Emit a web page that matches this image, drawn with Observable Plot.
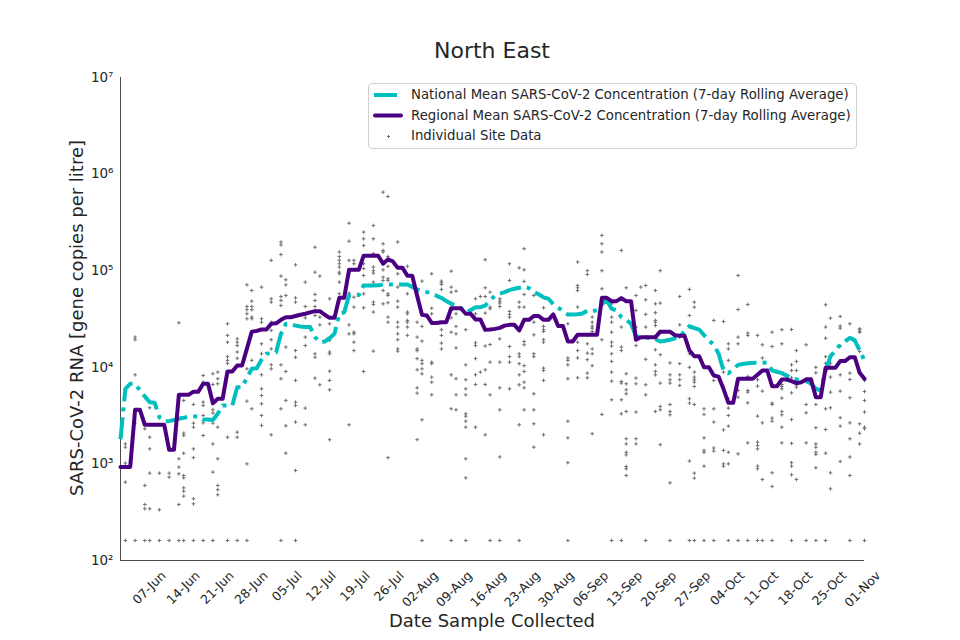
<!DOCTYPE html>
<html>
<head>
<meta charset="utf-8">
<script src="https://cdn.jsdelivr.net/npm/d3@7"></script>
<script src="https://cdn.jsdelivr.net/npm/@observablehq/plot@0.6"></script>
<style>
  body { margin: 0; background: #fff; font-family: "DejaVu Sans", sans-serif; }
  #wrap { position: relative; width: 960px; height: 640px; overflow: hidden; }
  #chart { position: absolute; left: 0; top: 0; }
  #title { position: absolute; left: 120px; width: 744px; top: 37px; text-align: center; font-size: 22px; line-height: 28px; color: #262626; }
  #ylabel { position: absolute; left: 76px; top: 318px; transform: translate(-50%, -50%) rotate(-90deg); white-space: nowrap; font-size: 18px; color: #262626; }
  #xlabel { position: absolute; left: 120px; width: 744px; top: 609px; text-align: center; font-size: 18px; line-height: 24px; color: #262626; }
  #legend { position: absolute; left: 368px; top: 83px; width: 489px; height: 66px; box-sizing: border-box; border: 1px solid #d0d0d0; border-radius: 4px; background: rgba(255,255,255,0.85); font-size: 13.3px; color: #262626; }
  #legend .lt { position: absolute; left: 42px; line-height: 18px; white-space: nowrap; }
  #legend svg { position: absolute; left: 0; top: 0; }
</style>
</head>
<body>
<div id="wrap">
  <div id="chart"></div>
  <div id="title"></div>
  <div id="ylabel"></div>
  <div id="xlabel"></div>
  <div id="legend">
    <svg width="487" height="64">
      <line id="swNat" x1="5" x2="28" y1="11" y2="11" stroke-width="4"/>
      <line id="swReg" x1="6" x2="32" y1="31.5" y2="31.5" stroke-width="4" stroke-linecap="round"/>
      <path id="swPts" d="M18,52.5h3M19.5,51v3" stroke-width="1"/>
    </svg>
    <div class="lt" id="lg0" style="top:2px"></div>
    <div class="lt" id="lg1" style="top:22.5px"></div>
    <div class="lt" id="lg2" style="top:43px"></div>
  </div>
</div>
<script>
// ---------- text ----------
const titleText = "North East";
const xLabelText = "Date Sample Collected";
const yLabelText = "SARS-CoV-2 RNA [gene copies per litre]";
const legendLabels = [
  "National Mean SARS-CoV-2 Concentration (7-day Rolling Average)",
  "Regional Mean SARS-CoV-2 Concentration (7-day Rolling Average)",
  "Individual Site Data"
];

// ---------- axes ----------
const xStart = "2020-06-01";
const xEnd = "2020-11-01";
const xTicks = ["2020-06-07","2020-06-14","2020-06-21","2020-06-28","2020-07-05","2020-07-12","2020-07-19","2020-07-26",
  "2020-08-02","2020-08-09","2020-08-16","2020-08-23","2020-08-30","2020-09-06","2020-09-13","2020-09-20","2020-09-27",
  "2020-10-04","2020-10-11","2020-10-18","2020-10-25","2020-11-01"];
const yTicks = [1e2, 1e3, 1e4, 1e5, 1e6, 1e7];

// ---------- daily 7-day rolling averages, one value per day from seriesStart ----------
const seriesStart = "2020-06-01";
const nationalMean = [
  1800, 5990, 6750, 6750, 5750, 5000, 4350, 4300, 3040, 2770,
  2770, 2850, 2930, 3000, 3100, 3100, 3100, 2880, 2880, 2850,
  3300, 4030, 4030, 4030, 6220, 6220, 7800, 9640, 9800, 12000,
  13800, 14000, 14300, 22200, 28200, 28000, 27000, 26500, 26100, 26100,
  20500, 18200, 18500, 20000, 22200, 35800, 37000, 55300, 56000, 56000,
  70300, 70300, 70300, 70500, 72000, 72000, 72000, 72000, 72000, 72000,
  68000, 64000, 62000, 60000, 58500, 55000, 52400, 48500, 45400, 44000,
  41000, 37200, 39000, 41900, 41900, 43600, 49200, 55000, 57700, 60000,
  63000, 65000, 66500, 68600, 66000, 60000, 57000, 53000, 51200, 45000,
  41500, 38000, 35200, 35200, 35500, 36000, 38700, 38000, 39000, 45000,
  49200, 40300, 39000, 33000, 31000, 28200, 21000, 20500, 20500, 20000,
  19500, 18500, 18800, 19300, 20000, 20800, 23500, 26700, 25500, 24600,
  21500, 19000, 17100, 13800, 9270, 8700, 9500, 10600, 10800, 11000,
  11100, 11200, 11200, 11100, 9270, 9000, 8700, 8200, 7710, 7500,
  7300, 7200, 6750, 6000, 5750, 9270, 13000, 14900, 17200, 18500,
  20200, 19000, 15000, 11700
];
const regionalMean = [
  930, 930, 930, 3630, 3630, 2540, 2540, 2540, 2540, 2540,
  1400, 1400, 5190, 5190, 5190, 5600, 5600, 6750, 6750, 4250,
  4720, 4720, 9060, 9060, 10440, 10440, 15600, 23400, 23800, 24600,
  24600, 28200, 28500, 31000, 33000, 33000, 34000, 35000, 35800, 37000,
  38100, 38100, 35000, 32500, 32500, 52400, 52400, 102000, 102000, 102000,
  143000, 143000, 143000, 143000, 118000, 131000, 125000, 107000, 107000, 88500,
  88500, 55000, 34900, 34400, 28800, 28800, 29300, 29300, 40900, 40900,
  40900, 35800, 35800, 31300, 31300, 24400, 24600, 25000, 25600, 27000,
  27500, 27500, 24100, 31000, 31000, 34000, 34000, 31000, 31000, 35300,
  26700, 26700, 18500, 18500, 21700, 21700, 21700, 21700, 21700, 52400,
  52400, 48400, 48400, 52000, 48300, 48300, 19300, 20500, 20500, 20500,
  20500, 23400, 23400, 23400, 21500, 21200, 21200, 14900, 13000, 13000,
  10000, 10000, 8220, 8000, 5990, 4290, 4290, 7610, 7610, 7610,
  7610, 8360, 9270, 9270, 6370, 6370, 7480, 7480, 7200, 6850,
  7000, 7500, 7500, 4900, 4900, 9880, 9880, 9880, 11600, 11600,
  12700, 12700, 8770, 7610
];

// ---------- individual site samples ----------
const sampleDates = [
  "2020-06-02","2020-06-04","2020-06-06","2020-06-07","2020-06-09","2020-06-11","2020-06-13","2020-06-14",
  "2020-06-16","2020-06-18","2020-06-20","2020-06-21","2020-06-23","2020-06-25","2020-06-27","2020-06-28",
  "2020-06-30","2020-07-02","2020-07-04","2020-07-05","2020-07-07","2020-07-09","2020-07-11","2020-07-12",
  "2020-07-14","2020-07-16","2020-07-18","2020-07-19","2020-07-21","2020-07-23","2020-07-25","2020-07-26",
  "2020-07-28","2020-07-30","2020-08-01","2020-08-02","2020-08-04","2020-08-06","2020-08-08","2020-08-09",
  "2020-08-11","2020-08-13","2020-08-14","2020-08-15","2020-08-16","2020-08-18","2020-08-20","2020-08-22",
  "2020-08-23","2020-08-25","2020-08-27","2020-09-01","2020-09-03","2020-09-05","2020-09-06","2020-09-08",
  "2020-09-10","2020-09-12","2020-09-13","2020-09-15","2020-09-16","2020-09-17","2020-09-19","2020-09-20",
  "2020-09-22","2020-09-24","2020-09-26","2020-09-27","2020-09-29","2020-10-01","2020-10-03","2020-10-04",
  "2020-10-06","2020-10-08","2020-10-10","2020-10-11","2020-10-13","2020-10-15","2020-10-17","2020-10-18",
  "2020-10-20","2020-10-22","2020-10-24","2020-10-25","2020-10-27","2020-10-29","2020-10-31","2020-11-01"
];
const sampleValues = [
  [1610, 1490, 1020, 964, 648, 161],
  [20500, 19300, 8360, 2640, 161],
  [2310, 598, 380, 343, 161],
  [3810, 1890, 1430, 802, 343, 161],
  [802, 335, 161],
  [802, 730, 161],
  [28900, 1130, 926, 789, 380, 161],
  [4540, 2080, 1970, 1290, 759, 718, 565, 522, 464, 161],
  [4120, 2640, 2400, 1430, 1160, 435, 386, 161],
  [8230, 7020, 4360, 4030, 3170, 2660, 1970, 161],
  [8570, 6640, 3630, 3360, 2640, 1610, 822, 161],
  [8920, 7610, 6750, 2400, 1130, 598, 540, 479],
  [28200, 21400, 18200, 12900, 11800, 11000, 1890, 161],
  [19700, 18200, 16800, 14400, 12400, 2130, 1890, 161],
  [71400, 42600, 39400, 35800, 31800, 9640, 4460, 1000, 161],
  [62400, 48400, 42600, 39400, 33100, 31800, 11800, 3720],
  [67600, 31800, 29300, 17500, 13800, 8360, 5990, 5110, 4190, 3170, 2500],
  [128000, 51200, 47300, 29300, 24100, 19300, 15500, 10600, 9640, 2000],
  [198000, 185000, 147000, 87900, 54100, 49200, 43600, 10600, 7610, 3720, 161],
  [80500, 71400, 55400, 16200, 9060, 4540, 2480, 1290],
  [115000, 52400, 47300, 14900, 12700, 7310, 4360, 4030, 2710, 855, 161],
  [76200, 42600, 32500, 26100, 20500, 16800, 3780, 2540],
  [175000, 96600, 56800, 49200, 42600, 38800, 34400, 13800, 12700, 7730],
  [87900, 33100, 27500, 6590],
  [51200, 28200, 19000, 14400, 13800, 9120, 7310, 5850, 1780],
  [156000, 140000, 128000, 118000, 109000, 96600, 92900, 76200, 57700],
  [310000, 202000, 128000, 92900, 58600, 27500, 22200, 2540],
  [128000, 118000, 53200, 42000, 23100, 22200, 18200, 14900],
  [251000, 214000, 182000, 118000, 105000, 89300, 57700, 41300, 9060],
  [294000, 214000, 150000, 109000, 100000, 94400, 76200, 47300, 44700, 37300, 14700],
  [650000, 190000, 162000, 156000, 123000, 102000, 85800, 79300, 62400, 45400],
  [586000, 140000, 111000, 82400, 79300, 57700, 55400, 46600, 33100, 29300, 1160],
  [198000, 92900, 67600, 48400, 42000, 29300, 26100, 22200, 19300, 15500, 14700],
  [111000, 57700, 37300, 35800, 30600, 29300, 26100, 21400],
  [29300, 20500, 15500, 14900, 12300, 9420, 6130, 5400, 1780],
  [78000, 26500, 18700, 11800, 10900, 9640, 8570, 2860, 161],
  [92900, 40900, 35800, 11300, 10900, 7910, 7020, 5190],
  [78000, 75000, 72000, 64000, 52400, 24500, 21400, 17800, 15500],
  [98900, 67600, 60000, 46200, 38800, 32500, 23100, 8360, 3720, 161],
  [61400, 35800, 26500, 22200, 15900, 7610, 5190, 3630],
  [24500, 10600, 7430, 5990, 5190, 3300, 3120, 2770, 2400, 1130, 718, 161],
  [51200, 35800, 17900, 16800, 12300, 8360, 6640, 2400],
  [54100, 8920],
  [130000, 66500, 54100, 36400, 16600, 9420, 6640, 2000],
  [60000, 42000, 40300, 17200, 11300, 5190, 161],
  [51200, 48400, 46200, 42600, 19700, 11300, 6130, 3630, 1180, 161],
  [118000, 79300, 37800, 35300, 33100, 16400, 12900, 11300, 5990],
  [107000, 47300, 42000, 24100, 13800, 12900, 10900, 8360, 6590, 2540, 161],
  [169000, 102000, 77400, 56800, 42000, 18500, 17100, 10400, 9060, 7020, 6130, 3630],
  [55400, 29300, 21700, 13800, 12900, 5320, 3630, 2600, 1490],
  [41300, 26500, 24500, 23500, 19300, 18200, 9800, 9270, 7310, 2000],
  [28200, 12500, 11800, 10600, 7610, 2770, 1860, 1030, 161],
  [123000, 70300, 66500, 62400, 42000, 18200, 14900, 12500, 7790],
  [100000, 91400, 21400, 17500, 14000, 12000, 8710, 7790],
  [33100, 29300, 26700, 25400, 23500, 21900, 15500, 13800, 10400, 2050],
  [232000, 190000, 156000, 100000, 65000, 19300, 3250],
  [45400, 33100, 29300, 23100, 18200, 16600, 13800, 11500, 8920, 7190, 4610, 161],
  [162000, 26100, 16200, 14900, 7130, 6860, 4610, 3300, 161],
  [66500, 8570, 6750, 5850, 5320, 3490, 1820, 1610, 1320, 1240, 940, 890, 759],
  [55400, 38800, 26100, 16800, 7730, 6750, 3440, 1820, 1610],
  [67600],
  [70300, 50000, 35300, 26100, 12100, 6590, 5190, 161],
  [62400, 45400, 36700, 30600, 29300, 27100, 15200, 10600, 9060, 8360, 3490],
  [100000, 46200, 23500, 13500, 6860, 3930, 3630, 1580],
  [11100, 8360, 7430, 6860, 4120, 3490, 3220, 637, 161],
  [54100, 27500, 20500, 10900, 8360, 7430, 6490],
  [64000, 34400, 13800, 10000, 4720, 4260, 1070, 161],
  [47300, 42000, 8920, 7910, 7430, 7020, 6330, 4120, 802, 713, 161],
  [3720, 3250, 1860, 1380, 1320, 948, 161],
  [30600, 7310, 3720, 2710, 1460, 1360, 161],
  [29800, 10000, 8920, 2250, 1380, 1000, 948],
  [17500, 15500, 11800, 4720, 3780, 3170, 2460, 1320, 1000, 161],
  [89300, 39700, 20500, 17500, 5760, 4910, 1270, 161],
  [44700, 22600, 21400, 8040, 5760, 5530, 4290, 1650, 161],
  [21400, 7430, 6390, 3120, 1680, 1550, 1430, 948, 890, 161],
  [17100, 12500, 5670, 2660, 690, 161],
  [23100, 16400, 6490, 4260, 4120, 2980, 2770, 809, 584, 161],
  [24500, 17500, 6640, 6330, 5990, 4800, 3490, 3220, 2400, 1650],
  [24600, 10600, 9270, 7790, 5440, 2880, 1630, 1030, 948, 771, 161],
  [14900, 11500, 9270, 7310, 6590, 6230, 690],
  [17100, 7480, 4120, 3380, 1650, 161],
  [10000, 8770, 4120, 2370, 1610, 1490, 1320, 1250, 912, 161],
  [44400, 26100, 20000, 12900, 11000, 3720, 2270, 1290, 161],
  [32300, 13300, 11000, 10000, 7910, 5530, 3810, 809, 552],
  [33600, 26700, 25400, 16600, 8360, 5670, 3000, 2460, 1060],
  [28200, 8710, 7480, 4840, 2660, 1820, 1180, 759, 161],
  [25000, 24500, 23500, 23100, 14600, 8710, 2600, 2080, 1610],
  [7310, 5620, 4540, 3440, 2400, 2310, 161]
];

// ---------- colours ----------
const nationalColor = "#00BFBF";
const regionalColor = "#4B0082";
const pointColor = "#707070";
const spineColor = "#4d4d4d";

// ---------- build tables ----------
const parse = d3.utcParse("%Y-%m-%d");
const s0 = parse(seriesStart);
const national = nationalMean.map((v, i) => ({date: d3.utcDay.offset(s0, i), value: v}));
const regional = regionalMean.map((v, i) => ({date: d3.utcDay.offset(s0, i), value: v}));
const sites = sampleDates.flatMap((d, i) => sampleValues[i].map(v => ({date: parse(d), value: v})));

const supDigits = "⁰¹²³⁴⁵⁶⁷⁸⁹";
const powFormat = v => "10" + String(Math.round(Math.log10(v))).split("").map(c => supDigits[+c]).join("");
const dateFormat = d3.utcFormat("%d-%b");
const xTickDates = xTicks.map(parse);

const chart = Plot.plot({
  width: 960,
  height: 640,
  marginLeft: 120,
  marginRight: 96,
  marginTop: 77,
  marginBottom: 80,
  style: {fontFamily: "'DejaVu Sans', sans-serif", fontSize: "13px", color: "#262626", background: "transparent", overflow: "visible"},
  x: {type: "utc", domain: [parse(xStart), parse(xEnd)], label: null},
  y: {type: "log", domain: [yTicks[0], yTicks[yTicks.length - 1]], label: null},
  marks: [
    Plot.axisY(yTicks, {tickSize: 0, tickPadding: 7, tickFormat: powFormat, fontSize: 13.5, label: null}),
    Plot.axisX(xTickDates, {tickSize: 0, tickPadding: 0, tickRotate: -45, tickFormat: dateFormat, fontSize: 12.5, dx: 14, dy: 13, label: null}),
    Plot.ruleX([parse(xStart)], {stroke: spineColor, strokeWidth: 1}),
    Plot.ruleY([yTicks[0]], {stroke: spineColor, strokeWidth: 1}),
    Plot.dot(sites, {x: "date", y: "value", symbol: "plus", r: 1.25, stroke: pointColor, strokeWidth: 1}),
    Plot.line(national, {x: "date", y: "value", stroke: nationalColor, strokeWidth: 4, strokeDasharray: "22,6,4,6", strokeLinecap: "butt", strokeLinejoin: "round"}),
    Plot.line(regional, {x: "date", y: "value", stroke: regionalColor, strokeWidth: 4, strokeLinejoin: "round", strokeLinecap: "round"})
  ]
});
document.getElementById("chart").appendChild(chart);

document.getElementById("title").textContent = titleText;
document.getElementById("xlabel").textContent = xLabelText;
document.getElementById("ylabel").textContent = yLabelText;
legendLabels.forEach((t, i) => document.getElementById("lg" + i).textContent = t);
document.getElementById("swNat").setAttribute("stroke", nationalColor);
document.getElementById("swReg").setAttribute("stroke", regionalColor);
document.getElementById("swPts").setAttribute("stroke", pointColor);
</script>
</body>
</html>
